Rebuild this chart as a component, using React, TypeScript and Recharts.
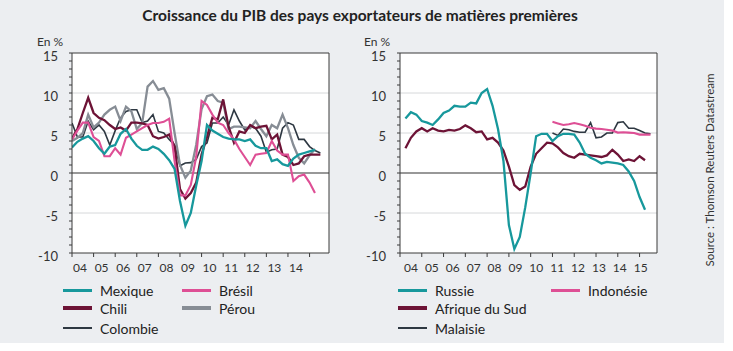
import React from 'react';
import { LineChart, Line, XAxis, YAxis, CartesianGrid, ReferenceLine } from 'recharts';

const FONT = 'Lato, "Open Sans", sans-serif';
const TEAL = '#17989c';
const PINK = '#de4f95';
const MAROON = '#6d1336';
const GRAY = '#878d95';
const DARK = '#2e3842';

// Quarterly growth values, left panel (first point = Q1 2004)
const mexique = [3.2, 3.9, 4.3, 4.6, 4.0, 3.1, 2.4, 3.3, 3.5, 4.9, 5.5, 4.3, 3.4, 2.9, 2.9, 3.3, 3.0, 2.4, 1.6, 0.5, -3.5, -6.6, -5.0, -1.6, 1.5, 6.0, 5.3, 4.9, 4.5, 4.3, 4.2, 4.2, 4.0, 4.2, 3.4, 3.1, 3.1, 1.5, 1.7, 1.1, 0.9, 1.8, 2.3, 2.5, 2.7, 2.9];
const bresil = [4.2, 5.3, 6.3, 6.3, 4.5, 4.0, 2.1, 2.1, 3.1, 2.3, 4.4, 4.8, 5.2, 5.6, 6.0, 6.25, 6.25, 6.4, 6.8, 1.5, -2.8, -2.8, -1.5, 2.0, 9.0, 8.5, 7.3, 6.3, 6.0, 5.0, 4.2, 3.0, 2.0, 1.0, 2.3, 2.4, 2.5, 4.0, 2.8, 2.3, 2.3, -1.0, -0.4, -0.2, -1.2, -2.5];
const chili = [4.3, 5.5, 7.5, 9.4, 7.5, 6.9, 6.6, 6.0, 5.5, 5.7, 5.3, 6.3, 6.3, 6.2, 6.0, 4.6, 4.3, 4.5, 4.8, 3.3, -2.0, -3.2, -2.5, -1.2, 2.3, 4.5, 6.9, 6.7, 9.2, 5.8, 3.8, 5.2, 5.0, 6.0, 5.6, 5.8, 5.9, 4.2, 4.8, 2.3, 2.0, 1.0, 1.2, 2.1, 2.3, 2.3, 2.3];
const perou = [4.0, 4.4, 5.0, 7.3, 5.7, 6.3, 7.3, 7.9, 8.3, 6.5, 8.3, 7.7, 5.5, 6.25, 10.8, 11.5, 10.4, 10.6, 9.3, 5.0, 1.0, -0.6, 0.3, 3.5, 8.0, 9.6, 9.8, 9.0, 8.8, 5.5, 5.8, 5.8, 5.7, 5.6, 6.5, 5.5, 4.6, 6.0, 5.6, 7.3, 5.6, 3.5, 1.9, 1.2, 2.2, 3.0];
const colombie = [6.25, 4.5, 4.5, 6.5, 5.4, 6.0, 5.2, 3.5, 5.3, 6.9, 7.7, 7.9, 7.9, 6.3, 6.5, 7.3, 5.2, 5.0, 4.2, 3.5, 0.9, 1.25, 1.3, 1.7, 3.3, 3.75, 6.25, 6.25, 7.0, 6.0, 7.9, 6.5, 5.4, 5.8, 5.6, 4.6, 2.6, 2.9, 3.0, 5.6, 6.3, 6.0, 4.2, 4.2, 3.3, 2.8, 2.5];

// Right panel (Russie & Afrique du Sud start Q2 2004, Indonésie & Malaisie start Q1 2011)
const russie = [6.8, 7.6, 7.3, 6.5, 6.3, 6.0, 6.7, 7.5, 7.8, 8.4, 8.3, 8.3, 8.8, 8.7, 10.0, 10.5, 8.4, 5.5, 1.5, -6.5, -9.5, -8.0, -4.3, 0.0, 4.6, 4.9, 4.9, 4.0, 4.6, 4.9, 4.9, 4.8, 3.8, 2.4, 1.9, 1.6, 1.2, 1.4, 1.3, 1.2, 1.0, 0.2, -1.0, -3.0, -4.6];
const afriqueDuSud = [3.1, 4.4, 5.2, 5.6, 5.2, 5.6, 5.3, 5.2, 5.4, 5.3, 5.5, 5.95, 5.6, 5.1, 5.2, 4.2, 4.4, 3.8, 2.8, 0.8, -1.5, -2.1, -1.7, 0.8, 2.4, 3.1, 3.8, 3.7, 3.2, 2.5, 2.1, 1.9, 2.4, 2.3, 2.2, 2.1, 2.0, 2.2, 2.9, 2.3, 1.5, 1.7, 1.5, 2.1, 1.6];
const indonesie = [6.4, 6.2, 6.0, 6.1, 6.25, 6.1, 5.9, 5.65, 5.55, 5.5, 5.4, 5.3, 5.05, 5.1, 5.05, 5.0, 4.8, 4.8, 4.8];
const malaisie = [5.0, 4.7, 5.5, 5.4, 5.2, 5.1, 5.1, 6.3, 4.4, 4.5, 5.0, 5.0, 6.3, 6.4, 5.6, 5.6, 5.3, 5.0, 4.9];

const yearTicks = [2004, 2005, 2006, 2007, 2008, 2009, 2010, 2011, 2012, 2013, 2014, 2015];
const leftYearLabels = ['04', '05', '06', '07', '08', '09', '10', '11', '12', '13', '14', ''];
const rightYearLabels = ['04', '05', '06', '07', '08', '09', '10', '11', '12', '13', '14', '15'];
const yTicks = [-10, -9, -8, -7, -6, -5, -4, -3, -2, -1, 0, 1, 2, 3, 4, 5, 6, 7, 8, 9, 10, 11, 12, 13, 14, 15];
const gridValues = [-5, 5, 10];

type Series = { key: string; name: string; color: string; values: number[]; start: number; width: number };

const leftSeries: Series[] = [
  { key: 'colombie', name: 'Colombie', color: DARK, values: colombie, start: 0, width: 1.6 },
  { key: 'perou', name: 'Pérou', color: GRAY, values: perou, start: 0, width: 2.3 },
  { key: 'chili', name: 'Chili', color: MAROON, values: chili, start: 0, width: 2.3 },
  { key: 'bresil', name: 'Brésil', color: PINK, values: bresil, start: 0, width: 2.1 },
  { key: 'mexique', name: 'Mexique', color: TEAL, values: mexique, start: 0, width: 2.3 },
];
const rightSeries: Series[] = [
  { key: 'malaisie', name: 'Malaisie', color: DARK, values: malaisie, start: 28, width: 1.6 },
  { key: 'indonesie', name: 'Indonésie', color: PINK, values: indonesie, start: 28, width: 2.1 },
  { key: 'afrique', name: 'Afrique du Sud', color: MAROON, values: afriqueDuSud, start: 1, width: 2.3 },
  { key: 'russie', name: 'Russie', color: TEAL, values: russie, start: 1, width: 2.3 },
];

const leftLegendCols = [
  [{ name: 'Mexique', color: TEAL, h: 3 }, { name: 'Chili', color: MAROON, h: 4 }, { name: 'Colombie', color: DARK, h: 2 }],
  [{ name: 'Brésil', color: PINK, h: 3 }, { name: 'Pérou', color: GRAY, h: 4 }],
];
const rightLegendCols = [
  [{ name: 'Russie', color: TEAL, h: 3 }, { name: 'Afrique du Sud', color: MAROON, h: 4 }, { name: 'Malaisie', color: DARK, h: 2 }],
  [{ name: 'Indonésie', color: PINK, h: 3 }],
];

function buildRows(series: Series[]) {
  let maxQ = 0;
  series.forEach((s) => { maxQ = Math.max(maxQ, s.start + s.values.length - 1); });
  const rows: any[] = [];
  for (let q = 0; q <= maxQ; q++) {
    const row: any = { t: 2004 + q / 4 };
    series.forEach((s) => {
      const i = q - s.start;
      row[s.key] = i >= 0 && i < s.values.length ? s.values[i] : null;
    });
    rows.push(row);
  }
  return rows;
}

const makeXTick = (labels: string[], shift: (i: number) => number) => (p: any) => {
  const i = Math.round(p.payload.value - 2004);
  const label = labels[i];
  if (!label) return <g />;
  return (
    <text x={p.x + shift(i)} y={272} textAnchor="middle" fontSize={12} fill="#333" fontFamily={FONT}>
      {label}
    </text>
  );
};

const yTick = (p: any) => {
  const v = p.payload.value;
  if (v % 5 !== 0) return <g />;
  return (
    <text x={p.x} y={p.y + 7.6} textAnchor="end" fontSize={13} fill="#333" fontFamily={FONT}>
      {v}
    </text>
  );
};

function Panel(props: {
  series: Series[];
  labels: string[];
  shift: (i: number) => number;
  xMax: number;
  left: number;
  marginLeft: number;
  marginRight: number;
}) {
  const { series, labels, shift, xMax, left, marginLeft, marginRight } = props;
  const data = buildRows(series);
  return (
    <div style={{ position: 'absolute', left, top: 0 }}>
      <LineChart width={340} height={280} data={data} margin={{ top: 53, right: marginRight, bottom: 7, left: marginLeft }}>
        <CartesianGrid fill="#ffffff" horizontal={false} vertical={false} />
        {gridValues.map((v) => (
          <ReferenceLine key={v} y={v} stroke="#d6d8da" strokeWidth={1} />
        ))}
        <ReferenceLine y={15} stroke="#3a3a3a" />
        <ReferenceLine x={xMax} stroke="#3a3a3a" />
        <XAxis
          type="number"
          dataKey="t"
          domain={[2004, xMax]}
          ticks={yearTicks}
          interval={0}
          allowDataOverflow
          tickSize={4}
          tickMargin={2}
          height={20}
          stroke="#3a3a3a"
          tick={makeXTick(labels, shift)}
        />
        <YAxis
          type="number"
          domain={[-10, 15]}
          ticks={yTicks}
          interval={0}
          allowDataOverflow
          tickSize={3}
          tickMargin={11}
          width={40}
          stroke="#3a3a3a"
          tick={yTick}
        />
        <ReferenceLine y={0} stroke="#333" strokeWidth={1.2} />
        {series.map((s) => (
          <Line
            key={s.key}
            type="linear"
            dataKey={s.key}
            stroke={s.color}
            strokeWidth={s.width}
            dot={false}
            activeDot={false}
            isAnimationActive={false}
            connectNulls={false}
          />
        ))}
      </LineChart>
    </div>
  );
}

function Legend(props: { cols: { name: string; color: string; h: number }[][]; xs: number[] }) {
  const rowTops = [281, 299, 319];
  return (
    <>
      {props.cols.map((col, ci) =>
        col.map((item, ri) => (
          <div
            key={item.name}
            style={{
              position: 'absolute',
              left: props.xs[ci],
              top: rowTops[ri],
              height: 18,
              display: 'flex',
              alignItems: 'center',
              fontFamily: FONT,
              fontSize: 14,
              color: '#222',
              whiteSpace: 'nowrap',
            }}
          >
            <span style={{ display: 'inline-block', width: 29, height: item.h, background: item.color, marginRight: 8 }} />
            <span>{item.name}</span>
          </div>
        ))
      )}
    </>
  );
}

export default function App() {
  return (
    <div style={{ position: 'relative', width: 733, height: 351, background: '#fff', overflow: 'hidden' }}>
      <style>{`body{margin:0}`}</style>
      <div style={{ position: 'absolute', left: 0, top: 0, width: 724, height: 343, background: '#eceef1' }} />
      <div
        style={{
          position: 'absolute',
          left: 0,
          top: 6,
          width: 720,
          textAlign: 'center',
          fontFamily: FONT,
          fontWeight: 700,
          fontSize: 15.5,
          color: '#222',
        }}
      >
        Croissance du PIB des pays exportateurs de matières premières
      </div>
      <Panel series={leftSeries} labels={leftYearLabels} shift={() => 8} xMax={2015.9} left={0} marginLeft={32} marginRight={11} />
      <Panel series={rightSeries} labels={rightYearLabels} shift={(i) => 11 - 0.9 * i} xMax={2015.8} left={330} marginLeft={30} marginRight={13} />
      <svg width={733} height={351} style={{ position: 'absolute', left: 0, top: 0, pointerEvents: 'none' }}>
        <text x={37} y={46} fontSize={12} fill="#333" fontFamily={FONT}>En %</text>
        <text x={364} y={46} fontSize={12} fill="#333" fontFamily={FONT}>En %</text>
        <text transform="translate(714,170) rotate(-90)" textAnchor="middle" fontSize={11.5} fill="#333" fontFamily={FONT}>
          Source : Thomson Reuters Datastream
        </text>
      </svg>
      <Legend cols={leftLegendCols} xs={[63, 182]} />
      <Legend cols={rightLegendCols} xs={[398, 551]} />
    </div>
  );
}
